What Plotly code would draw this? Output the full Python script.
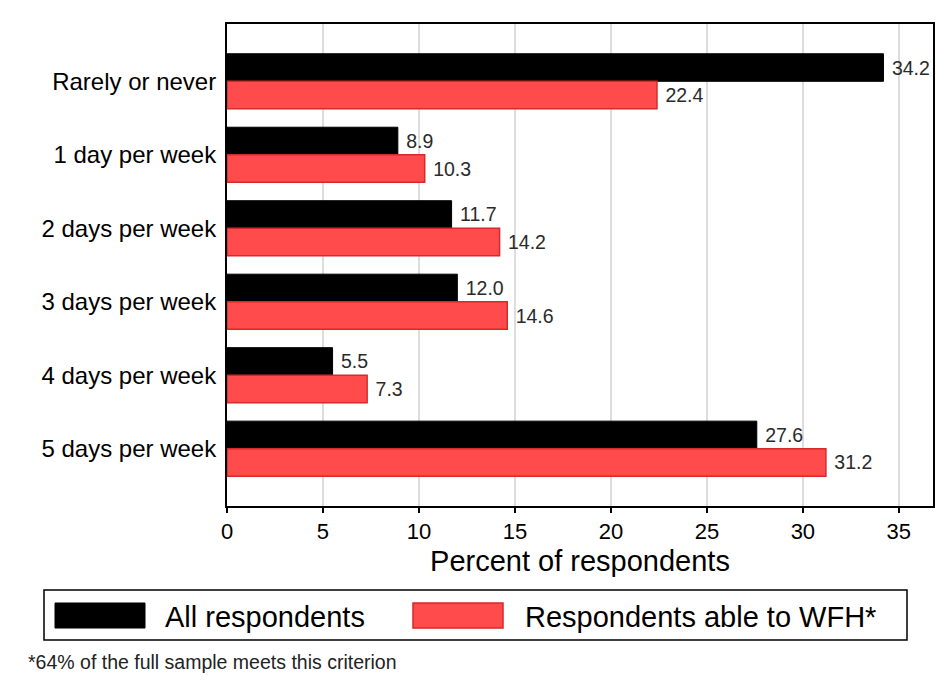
import plotly.graph_objects as go

categories = ['Rarely or never', '1 day per week', '2 days per week',
              '3 days per week', '4 days per week', '5 days per week']
all_resp = [34.2, 8.9, 11.7, 12.0, 5.5, 27.6]
wfh_resp = [22.4, 10.3, 14.2, 14.6, 7.3, 31.2]
x_ticks = [0, 5, 10, 15, 20, 25, 30, 35]

RED = '#ff4b4b'
RED_EDGE = '#d42a2a'
FONT = 'Liberation Sans, Arial, sans-serif'

# plot area in pixels (left, right, top, bottom) - used to place the hand-made legend
PL, PR, PT, PB = 227, 933, 24, 506


def px_x(x):
    return (x - PL) / (PR - PL)


def px_y(y):
    return (PB - y) / (PB - PT)


fig = go.Figure()
fig.add_trace(go.Bar(y=categories, x=all_resp, orientation='h', name='All respondents',
                     marker=dict(color='black', line=dict(color='black', width=1)),
                     text=[f' {v:.1f}' for v in all_resp], textposition='outside',
                     textfont=dict(size=19.5, color='#2a2a2a'), cliponaxis=False))
fig.add_trace(go.Bar(y=categories, x=wfh_resp, orientation='h', name='Respondents able to WFH*',
                     marker=dict(color=RED, line=dict(color=RED_EDGE, width=1.5)),
                     text=[f' {v:.1f}' for v in wfh_resp], textposition='outside',
                     textfont=dict(size=19.5, color='#2a2a2a'), cliponaxis=False))

fig.update_layout(
    width=949, height=682,
    margin=dict(l=PL, r=949 - PR, t=PT, b=682 - PB),
    barmode='group', bargap=0.25, bargroupgap=0,
    plot_bgcolor='white', paper_bgcolor='white',
    font=dict(family=FONT, color='black'),
    showlegend=False,
)
fig.update_xaxes(range=[0, 36.78], tickvals=x_ticks, tickfont=dict(size=22),
                 showgrid=True, gridcolor='#dddddd', gridwidth=2,
                 showline=True, linecolor='black', linewidth=2, mirror=True,
                 ticks='outside', ticklen=5, tickwidth=2, tickcolor='black',
                 title=dict(text='Percent of respondents', font=dict(size=29), standoff=7),
                 zeroline=False)
fig.update_yaxes(categoryorder='array', categoryarray=categories, autorange=False,
                 range=[5.78, -0.78], tickfont=dict(size=24),
                 showline=True, linecolor='black', linewidth=2, mirror=True,
                 ticks='', ticklabelstandoff=4, showgrid=False)

# legend box drawn by hand so the swatches match the original size
fig.add_shape(type='rect', xref='paper', yref='paper',
              x0=px_x(44), x1=px_x(907), y0=px_y(640), y1=px_y(590),
              line=dict(color='black', width=1.5), fillcolor='white')
fig.add_shape(type='rect', xref='paper', yref='paper',
              x0=px_x(55), x1=px_x(145), y0=px_y(628), y1=px_y(603),
              line=dict(color='black', width=1), fillcolor='black')
fig.add_shape(type='rect', xref='paper', yref='paper',
              x0=px_x(413), x1=px_x(503), y0=px_y(628), y1=px_y(603),
              line=dict(color=RED_EDGE, width=1.5), fillcolor=RED)
fig.add_annotation(text='All respondents', xref='paper', yref='paper',
                   x=px_x(163), y=px_y(617), xanchor='left', yanchor='middle',
                   showarrow=False, font=dict(size=29))
fig.add_annotation(text='Respondents able to WFH*', xref='paper', yref='paper',
                   x=px_x(523), y=px_y(617), xanchor='left', yanchor='middle',
                   showarrow=False, font=dict(size=29))
fig.add_annotation(text='*64% of the full sample meets this criterion', xref='paper', yref='paper',
                   x=px_x(26), y=px_y(662), xanchor='left', yanchor='middle',
                   showarrow=False, font=dict(size=19.5, color='#222222'))

fig.write_html('out.html', config={'displayModeBar': False},
               post_script="document.body.style.margin='0';")
